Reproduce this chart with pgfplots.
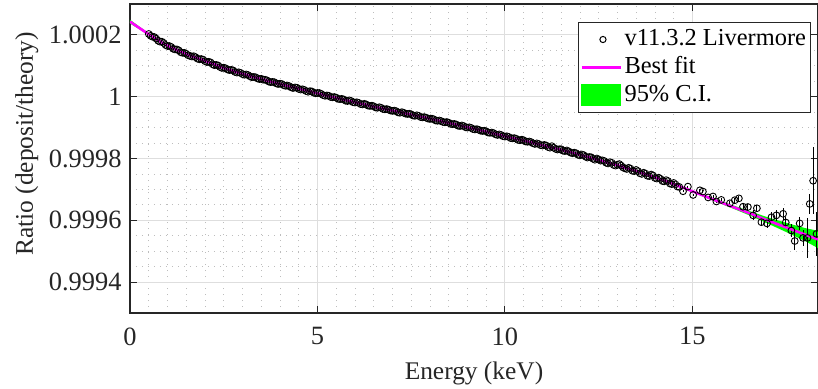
\documentclass[border=0pt]{standalone}
\usepackage{fontspec}
\setmainfont{Liberation Serif}
\usepackage{pgfplots}
\pgfplotsset{compat=1.18}
\definecolor{axgray}{gray}{0.15}
\definecolor{gridmaj}{gray}{0.87}
\definecolor{gridmin}{gray}{0.74}
\definecolor{fitmag}{rgb}{1,0,1}
\definecolor{cigreen}{rgb}{0,1,0}
\newcommand{\tickfont}{\fontsize{26.5}{30}\selectfont}
\newcommand{\labfont}{\fontsize{25.5}{30}\selectfont}
\newcommand{\legfont}{\fontsize{24.5}{28}\selectfont}

% Ratio values are stored as deviations from 1 in parts per million (1e-6)
\pgfplotstableread{
x y
0.5 203
0.6 194
0.7 188
0.8 178
0.9 174
1.0 164
1.1 161
1.2 153
1.3 150
1.4 142
1.5 139
1.6 132
1.7 131
1.8 123
1.9 122
2.0 115
2.1 113
2.2 105
2.3 103
2.4 96
2.5 94
2.6 88
2.7 87
2.8 80
2.9 79
3.0 73
3.1 72
3.2 66
3.3 64
3.4 59
3.5 58
3.6 55
3.7 49
3.8 48
3.9 43
4.0 42
4.1 37
4.2 36
4.3 30
4.4 30
4.5 25
4.6 24
4.7 18
4.8 18
4.9 13
5.0 12
5.1 9
5.2 3
5.3 3
5.4 -2
5.5 -3
5.6 -8
5.7 -9
5.8 -14
5.9 -14
6.0 -19
6.1 -20
6.2 -25
6.3 -25
6.4 -30
6.5 -31
6.6 -36
6.7 -36
6.8 -41
6.9 -42
7.0 -46
7.1 -47
7.2 -52
7.3 -52
7.4 -56
7.5 -57
7.6 -62
7.7 -62
7.8 -67
7.9 -68
8.0 -72
8.1 -73
8.2 -78
8.3 -79
8.4 -83
8.5 -84
8.6 -89
8.7 -90
8.8 -95
8.9 -95
9.0 -100
9.1 -101
9.2 -106
9.3 -107
9.4 -111
9.5 -112
9.6 -117
9.7 -118
9.8 -124
9.9 -124
10.0 -129
10.1 -130
10.2 -135
10.3 -136
10.4 -141
10.5 -141
10.6 -146
10.7 -147
10.8 -153
10.9 -153
11.0 -158
11.1 -158
11.2 -165
11.3 -165
11.4 -171
11.5 -170
11.6 -176
11.7 -177
11.8 -183
11.9 -183
12.0 -190
12.1 -189
12.2 -197
12.3 -196
12.4 -204
12.5 -203
12.6 -206
12.7 -214
12.8 -212
12.9 -221
13.0 -220
13.1 -223
13.2 -232
13.3 -230
13.4 -240
13.5 -237
13.6 -248
13.7 -246
13.8 -256
13.9 -252
14.0 -263
14.1 -262
14.2 -273
14.3 -270
14.4 -281
14.5 -279
14.6 -291
}\lowdata

\pgfplotstableread{
x y
0.55 197
0.65 193
0.75 181
0.85 178
0.95 167
1.05 164
1.15 155
1.25 153
1.35 144
1.45 142
1.55 134
1.65 130
1.75 128
1.85 121
1.95 120
2.05 112
2.15 111
2.25 102
2.35 101
2.45 93
2.55 92
2.65 86
2.75 85
2.85 78
2.95 77
3.05 71
3.15 70
3.25 63
3.35 63
3.45 57
3.55 55
3.65 53
3.75 47
3.85 47
3.95 41
4.05 41
4.15 35
4.25 34
4.35 28
4.45 29
4.55 23
4.65 22
4.75 16
4.85 17
4.95 11
5.05 12
5.15 5
5.25 4
5.35 -1
5.45 -1
5.55 -7
5.65 -7
5.75 -13
5.85 -12
5.95 -18
6.05 -18
6.15 -24
6.25 -23
6.35 -29
6.45 -29
6.55 -35
6.65 -34
6.75 -40
6.85 -40
6.95 -45
7.05 -45
7.15 -51
7.25 -50
7.35 -55
7.45 -55
7.55 -61
7.65 -60
7.75 -66
7.85 -66
7.95 -71
8.05 -71
8.15 -77
8.25 -77
8.35 -82
8.45 -82
8.55 -88
8.65 -88
8.75 -94
8.85 -93
8.95 -99
9.05 -99
9.15 -105
9.25 -105
9.35 -110
9.45 -110
9.55 -116
9.65 -116
9.75 -122
9.85 -122
9.95 -128
10.05 -128
10.15 -134
10.25 -134
10.35 -140
10.45 -139
10.55 -145
10.65 -145
10.75 -151
10.85 -151
10.95 -157
11.05 -156
11.15 -163
11.25 -160
11.35 -169
11.45 -170
11.55 -175
11.65 -174
11.75 -181
11.85 -181
11.95 -188
12.05 -187
12.15 -194
12.25 -195
12.35 -201
12.45 -200
12.55 -207
12.65 -208
12.75 -216
12.85 -214
12.95 -223
13.05 -218
13.15 -229
13.25 -234
13.35 -233
13.45 -241
13.55 -241
13.65 -250
13.75 -249
13.85 -257
13.95 -255
14.05 -265
14.15 -266
14.25 -274
14.35 -273
14.45 -283
14.55 -284
14.65 -292
}\middata

\pgfplotstableread{
x y e
14.75 -306 3
14.88 -291 3
15.02 -318 4
15.20 -303 4
15.28 -307 4
15.42 -326 5
15.55 -323 5
15.64 -339 6
15.77 -334 6
16.00 -345 7
16.13 -335 8
16.24 -329 9
16.35 -356 9
16.48 -357 10
16.62 -384 16
16.72 -361 12
16.84 -406 14
16.99 -410 14
17.11 -390 16
17.24 -384 18
17.42 -379 20
17.49 -407 18
17.64 -433 22
17.73 -467 30
17.86 -410 20
17.95 -457 25
18.07 -457 65
18.13 -347 33
18.22 -272 108
18.31 -444 70
}\highdata

\pgfplotstableread{
x y
0 243
0.5 202
1 165
1.5 138
2 116
2.5 93
3 74
3.5 57
4 41
4.5 26
5 11
5.5 -4
6 -18
6.5 -32
7 -45
7.5 -58
8 -71
8.5 -85
9 -99
9.5 -113
10 -128
10.5 -142
11 -157
11.5 -172
12 -188
12.5 -205
13 -222
13.5 -241
14 -261
14.5 -283
15 -306
15.5 -330
16 -353
16.5 -376
17 -400
17.5 -423
18 -446
18.35 -462
}\fitdata

\begin{document}
\begin{tikzpicture}
\begin{axis}[
  scale only axis, width=688bp, height=309bp,
  at={(0,0)}, anchor=south west,
  xmin=0, xmax=18.35, ymin=-700, ymax=300,
  xtick={0,5,10,15}, xticklabels={0,5,10,15},
  ytick={-600,-400,-200,0,200},
  yticklabels={0.9994,0.9996,0.9998,1,1.0002},
  minor x tick num=9, minor y tick num=3,
  grid=both,
  major grid style={gridmaj, line width=0.9bp},
  minor grid style={gridmin, line width=0.8bp, dash pattern=on 1bp off 5bp},
  minor tick length=0pt, major tick length=7bp,
  tick style={axgray, line width=0.9bp},
  axis line style={axgray, line width=1.1bp},
  tick label style={font=\tickfont, text=axgray},
  xticklabel style={yshift=-11bp},
  yticklabel style={xshift=-5bp},
  label style={font=\labfont, text=axgray},
  xlabel={Energy (keV)},
  ylabel={Ratio (deposit/theory)},
  xlabel style={at={(axis description cs:0.5,-0.2168)}, anchor=base},
  ylabel style={at={(axis description cs:-0.141,0.547)}, anchor=base},
  legend cell align=left,
  legend style={at={(rel axis cs:0.9898,0.9417)}, anchor=north east,
    draw=axgray, line width=1bp, fill=white, font=\legfont,
    inner xsep=2bp, inner ysep=3bp,
    nodes={inner sep=2.5bp, text height=17bp, text depth=6bp}},
]
% 95% confidence band
\addplot[fill=cigreen, draw=none, forget plot] coordinates {
(0,249) (0.5,205) (1,167) (1.5,139.5) (2,117.5) (2.5,94.5) (3,75.5) (3.5,58.5)
(4,42.5) (4.5,27.5) (5,12.5) (5.5,-2.5) (6,-16.5) (6.5,-30.5) (7,-43.5)
(7.5,-56.5) (8,-69.5) (8.5,-83.5) (9,-97.5) (9.5,-111.5) (10,-126.5)
(10.5,-140.5) (11,-155.5) (11.5,-170.5) (12,-186.5) (12.5,-203.5) (13,-220.5)
(13.5,-239.5) (14,-259.5) (14.5,-281) (15,-303) (15.5,-326) (16,-348)
(16.5,-369) (17,-390) (17.5,-408) (18,-425) (18.35,-434)
(18.35,-490) (18,-467) (17.5,-438) (17,-410) (16.5,-383) (16,-358) (15.5,-334)
(15,-309) (14.5,-285) (14,-262.5) (13.5,-242.5) (13,-223.5) (12.5,-206.5)
(12,-189.5) (11.5,-173.5) (11,-158.5) (10.5,-143.5) (10,-129.5) (9.5,-114.5)
(9,-100.5) (8.5,-86.5) (8,-72.5) (7.5,-59.5) (7,-46.5) (6.5,-33.5) (6,-19.5)
(5.5,-5.5) (5,9.5) (4.5,24.5) (4,39.5) (3.5,55.5) (3,72.5) (2.5,91.5)
(2,114.5) (1.5,136.5) (1,163) (0.5,199) (0,237)
} -- cycle;
% data
\addplot[only marks, mark=o, mark size=3.4bp, mark options={black, line width=0.85bp},
  legend image code/.code={\path[draw=none, fill=none] (0bp,-8bp) rectangle (39bp,8bp);
    \draw[black, line width=1bp] (21bp,0bp) circle (3.1bp);}]
  table[x=x, y=y] {\lowdata};
\addlegendentry{v11.3.2 Livermore}
\addplot[only marks, mark=o, mark size=3.4bp, mark options={black, line width=0.85bp},
  forget plot]
  table[x=x, y=y] {\middata};
\addplot[only marks, mark=o, mark size=3.4bp, mark options={black, line width=0.9bp},
  forget plot,
  error bars/.cd, y dir=both, y explicit, error mark=none,
  error bar style={black, line width=1bp}]
  table[x=x, y=y, y error=e] {\highdata};
% fit
\addplot[fitmag, line width=2.6bp, smooth,
  legend image code/.code={\draw[fitmag, line width=2.2bp] (0bp,0bp) -- (39bp,0bp);}]
  table[x=x, y=y] {\fitdata};
\addlegendentry{Best fit}
\addlegendimage{legend image code/.code={\fill[cigreen] (0bp,-10bp) rectangle (39bp,11bp);}}
\addlegendentry{95\% C.I.}
\end{axis}
\pgfresetboundingbox
\path (-130bp,-76bp) rectangle (688bp,313bp);
\end{tikzpicture}
\end{document}
